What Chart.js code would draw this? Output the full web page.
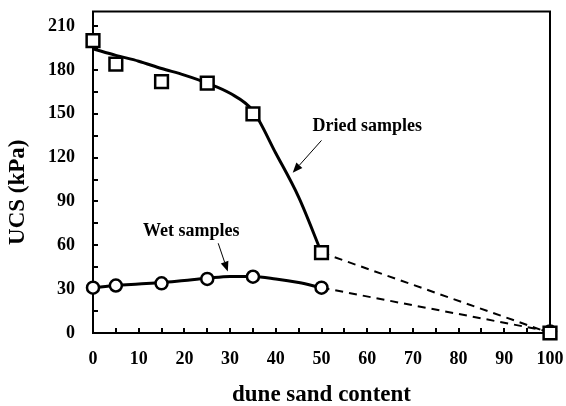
<!DOCTYPE html>
<html>
<head>
<meta charset="utf-8">
<script src="https://cdn.jsdelivr.net/npm/chart.js@4.4.1/dist/chart.umd.min.js"></script>
<style>
  html, body { margin: 0; padding: 0; background: #fff; }
  #wrap { width: 566px; height: 406px; position: relative; }
</style>
</head>
<body>
<div id="wrap"><canvas id="ucs"></canvas></div>
<script>
// measured UCS values (kPa) against dune sand content (%)
const sandContent = [0, 5, 15, 25, 35, 50, 100];
const driedUcs = [200, 184, 172, 171, 150, 55, 0];
const wetUcs = [31, 32.5, 34, 37, 38.5, 31, 1];

// fitted trend curves, 0-50 %
const fitContent = [0, 5, 10, 15, 20, 25, 30, 35, 40, 45, 50];
const driedFit = [194.5, 190, 186, 181, 176.5, 171, 164, 152, 123, 93, 55];
const wetFit = [31, 32.5, 33.5, 34.5, 36, 37.5, 38.7, 38.7, 37, 34.5, 31];

// axis tick labels
const xTicks = [0, 10, 20, 30, 40, 50, 60, 70, 80, 90, 100];
const yTicks = [0, 30, 60, 90, 120, 150, 180, 210];

// curve labels with arrows (data units)
const notes = [
  { text: 'Dried samples', at: [60.0, 141.5], from: [50.0, 131.8], to: [43.7, 109.7] },
  { text: 'Wet samples', at: [21.5, 69.4], from: [27.4, 61.4], to: [29.5, 42.0] }
];

const pts = (xs, ys) => xs.map((x, i) => ({ x: x, y: ys[i] }));
const FONT = "'Liberation Serif', 'Times New Roman', serif";

// keep tick labels from pushing the plot area in
function noEdgePadding(s) {
  s.paddingTop = 0;
  s.paddingBottom = 0;
  s.paddingLeft = 0;
  s.paddingRight = 0;
}

const framePlugin = {
  id: 'frame',
  beforeDatasetsDraw(chart) {
    const { ctx, chartArea: a, scales } = chart;
    ctx.save();
    ctx.strokeStyle = '#000';
    ctx.lineWidth = 2;
    ctx.strokeRect(a.left, a.top, a.right - a.left, a.bottom - a.top);
    // inward ticks, major and halfway minor
    ctx.beginPath();
    const xs = [];
    xTicks.forEach((v, i) => { xs.push(v); if (i < xTicks.length - 1) xs.push((v + xTicks[i + 1]) / 2); });
    xs.forEach(v => {
      const px = Math.round(scales.x.getPixelForValue(v));
      ctx.moveTo(px, a.bottom);
      ctx.lineTo(px, a.bottom - 5);
    });
    const ys = [];
    yTicks.forEach((v, i) => { ys.push(v); if (i < yTicks.length - 1) ys.push((v + yTicks[i + 1]) / 2); });
    ys.forEach(v => {
      const py = Math.round(scales.y.getPixelForValue(v));
      ctx.moveTo(a.left, py);
      ctx.lineTo(a.left + 5, py);
    });
    ctx.stroke();

    // y axis title, sitting a little below the middle of the axis
    ctx.fillStyle = '#000';
    ctx.font = 'bold 23px ' + FONT;
    ctx.textAlign = 'center';
    ctx.textBaseline = 'middle';
    ctx.translate(18, (a.top + a.bottom) / 2 + 20);
    ctx.rotate(-Math.PI / 2);
    ctx.fillText('UCS (kPa)', 0, 0);
    ctx.restore();
  },
  afterDatasetsDraw(chart) {
    const { ctx, scales } = chart;
    ctx.save();
    ctx.fillStyle = '#000';
    ctx.strokeStyle = '#000';
    ctx.font = 'bold 18px ' + FONT;
    ctx.textAlign = 'center';
    ctx.textBaseline = 'middle';
    notes.forEach(n => {
      ctx.fillText(n.text, scales.x.getPixelForValue(n.at[0]), scales.y.getPixelForValue(n.at[1]));
      const x1 = scales.x.getPixelForValue(n.from[0]), y1 = scales.y.getPixelForValue(n.from[1]);
      const x2 = scales.x.getPixelForValue(n.to[0]), y2 = scales.y.getPixelForValue(n.to[1]);
      const ang = Math.atan2(y2 - y1, x2 - x1);
      const len = 10, half = 4;
      const bx = x2 - len * Math.cos(ang), by = y2 - len * Math.sin(ang);
      ctx.lineWidth = 1;
      ctx.beginPath();
      ctx.moveTo(x1, y1);
      ctx.lineTo(bx, by);
      ctx.stroke();
      ctx.beginPath();
      ctx.moveTo(x2, y2);
      ctx.lineTo(bx + half * Math.sin(ang), by - half * Math.cos(ang));
      ctx.lineTo(bx - half * Math.sin(ang), by + half * Math.cos(ang));
      ctx.closePath();
      ctx.fill();
    });
    ctx.restore();
  }
};

const lineBase = {
  showLine: true,
  borderColor: '#000',
  pointRadius: 0,
  pointHoverRadius: 0,
  clip: false,
  order: 2
};

new Chart(document.getElementById('ucs'), {
  type: 'scatter',
  plugins: [framePlugin],
  data: {
    datasets: [
      Object.assign({}, lineBase, {
        label: 'Dried fit',
        data: pts(fitContent, driedFit),
        borderWidth: 3,
        cubicInterpolationMode: 'monotone'
      }),
      Object.assign({}, lineBase, {
        label: 'Wet fit',
        data: pts(fitContent, wetFit),
        borderWidth: 3,
        cubicInterpolationMode: 'monotone'
      }),
      Object.assign({}, lineBase, {
        label: 'Dried extension',
        data: pts(sandContent.slice(5), driedUcs.slice(5)),
        borderWidth: 2,
        borderDash: [8, 6]
      }),
      Object.assign({}, lineBase, {
        label: 'Wet extension',
        data: pts(sandContent.slice(5), wetUcs.slice(5)),
        borderWidth: 2,
        borderDash: [8, 6]
      }),
      {
        label: 'Dried samples',
        data: pts(sandContent, driedUcs),
        pointStyle: 'rect',
        pointRadius: 9,
        pointHoverRadius: 9,
        pointBorderWidth: 2.5,
        pointBorderColor: '#000',
        pointBackgroundColor: '#fff',
        clip: false,
        order: 0
      },
      {
        label: 'Wet samples',
        data: pts(sandContent, wetUcs),
        pointStyle: 'circle',
        pointRadius: 6,
        pointHoverRadius: 6,
        pointBorderWidth: 2.5,
        pointBorderColor: '#000',
        pointBackgroundColor: '#fff',
        clip: false,
        order: 1
      }
    ]
  },
  options: {
    responsive: true,
    maintainAspectRatio: false,
    animation: false,
    events: [],
    layout: { padding: { top: 9, right: 16, left: 0, bottom: 0 } },
    plugins: {
      legend: { display: false },
      tooltip: { enabled: false }
    },
    scales: {
      x: {
        type: 'linear',
        min: 0,
        max: 100,
        grid: { display: false, drawTicks: false },
        border: { display: false },
        afterBuildTicks: s => { s.ticks = xTicks.map(v => ({ value: v })); },
        afterFit: s => { s.height = 73; noEdgePadding(s); },
        ticks: {
          color: '#000',
          padding: 16,
          maxRotation: 0,
          font: { family: FONT, size: 18, weight: 'bold' }
        },
        title: {
          display: true,
          text: 'dune sand content',
          color: '#000',
          padding: { top: 0, bottom: -3 },
          font: { family: FONT, size: 23, weight: 'bold' }
        }
      },
      y: {
        type: 'linear',
        min: 0,
        max: 220,
        grid: { display: false, drawTicks: false },
        border: { display: false },
        afterBuildTicks: s => { s.ticks = yTicks.map(v => ({ value: v })); },
        afterFit: s => { s.width = 93; noEdgePadding(s); },
        ticks: {
          color: '#000',
          padding: 18,
          font: { family: FONT, size: 18, weight: 'bold' }
        },
        title: { display: false }
      }
    }
  }
});
</script>
</body>
</html>
